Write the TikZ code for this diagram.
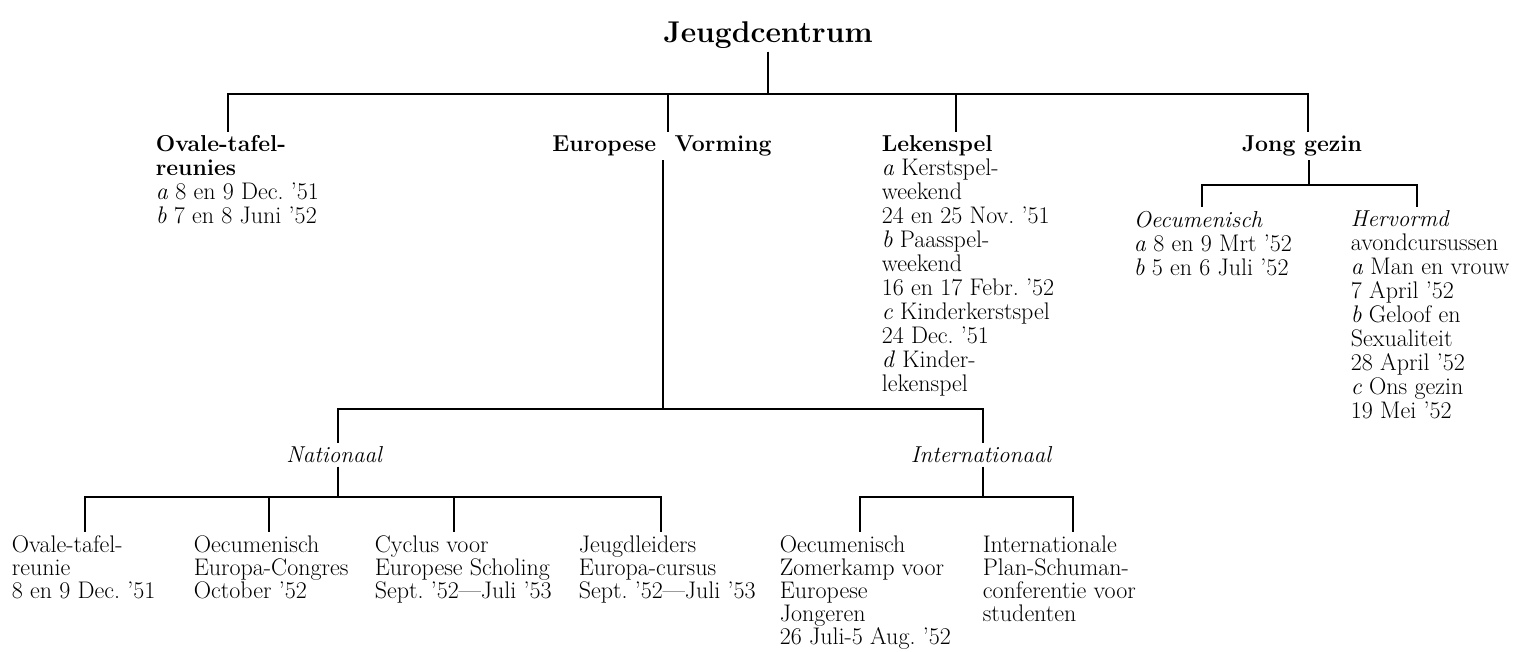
\documentclass[tikz,border=0pt]{standalone}
\newcommand\hd[1]{{\fontsize{23}{24}\selectfont\bfseries #1}}
\begin{document}
\begin{tikzpicture}[x=1pt, y=-1pt, line width=1.7pt,
    main/.style={inner sep=3pt, align=left, font=\fontsize{24}{24}\selectfont\frenchspacing},
    sub/.style={main, anchor=north, font=\fontsize{23}{24}\selectfont\itshape},
    leaf/.style={main, anchor=north west, font=\fontsize{24}{23}\selectfont\frenchspacing},
    top/.style={inner sep=3pt, anchor=base, font=\fontsize{30}{36}\selectfont\bfseries}]
    \useasboundingbox (0,0) rectangle (1521,651);
    \node[top] (0) at (768,42) {Jeugdcentrum};
    \node[main, anchor=north west] (1) at (152,132) {\hd{Ovale-tafel-}\\\hd{reunies}\\\textit{a} 8 en 9 Dec. '51\\\textit{b} 7 en 8 Juni '52};
    \node[main, anchor=north] (2) at (662,132) {\hd{Europese\hspace{0.8em}Vorming}};
    \node[main, anchor=north west] (3) at (878,132) {\hd{Lekenspel}\\\textit{a} Kerstspel-\\weekend\\24 en 25 Nov. '51\\\textit{b} Paasspel-\\weekend\\16 en 17 Febr. '52\\\textit{c} Kinderkerstspel\\24 Dec. '51\\\textit{d} Kinder-\\lekenspel};
    \node[main, anchor=north west] (4) at (1238,132) {\hd{Jong gezin}};
    \node[sub] (5) at (334,443) {Nationaal};
    \node[sub] (6) at (981,443) {Internationaal};
    \node[main, anchor=north west] (7) at (1130,207) {{\fontsize{23}{24}\selectfont\textit{Oecumenisch}}\\\textit{a} 8 en 9 Mrt '52\\\textit{b} 5 en 6 Juli '52};
    \node[main, anchor=north west] (8) at (1347,207) {{\fontsize{23}{24}\selectfont\textit{Hervormd}}\\avondcursussen\\\textit{a} Man en vrouw\\7 April '52\\\textit{b} Geloof en\\Sexualiteit\\28 April '52\\\textit{c} Ons gezin\\19 Mei '52};
    \node[leaf] (9) at (8,532) {Ovale-tafel-\\reunie\\8 en 9 Dec. '51};
    \node[leaf] (10) at (190,532) {Oecumenisch\\Europa-Congres\\October '52};
    \node[leaf] (11) at (371,532) {Cyclus voor\\Europese Scholing\\Sept. '52---Juli '53};
    \node[leaf] (12) at (575,532) {Jeugdleiders\\Europa-cursus\\Sept. '52---Juli '53};
    \node[leaf] (13) at (776,532) {Oecumenisch\\Zomerkamp voor\\Europese\\Jongeren\\26 Juli-5 Aug. '52};
    \node[leaf] (14) at (979,532) {Internationale\\Plan-Schuman-\\conferentie voor\\studenten};
    \draw (0.south) -- ++(0,42) -| ([xshift=76pt]1.north west);
    \draw (0.south) -- ++(0,42) -| ([xshift=6pt]2.north);
    \draw (0.south) -- ++(0,42) -| ([xshift=78pt]3.north west);
    \draw (0.south) -- ++(0,42) -| ([xshift=70pt]4.north west);
    \draw ([xshift=71pt]4.south west) -- ++(0,25) -| ([xshift=72pt]7.north west);
    \draw ([xshift=71pt]4.south west) -- ++(0,25) -| ([xshift=70pt]8.north west);
    \draw ([xshift=1pt]2.south) -- ++(0,249) -| ([xshift=4pt]5.north);
    \draw ([xshift=1pt]2.south) -- ++(0,249) -| ([xshift=2pt]6.north);
    \draw ([xshift=4pt]5.south) -- ++(0,30) -| ([xshift=77pt]9.north west);
    \draw ([xshift=4pt]5.south) -- ++(0,30) -| ([xshift=79pt]10.north west);
    \draw ([xshift=4pt]5.south) -- ++(0,30) -| ([xshift=83pt]11.north west);
    \draw ([xshift=4pt]5.south) -- ++(0,30) -| ([xshift=86pt]12.north west);
    \draw ([xshift=2pt]6.south) -- ++(0,30) -| ([xshift=84pt]13.north west);
    \draw ([xshift=2pt]6.south) -- ++(0,30) -| ([xshift=94pt]14.north west);
\end{tikzpicture}
\end{document}
